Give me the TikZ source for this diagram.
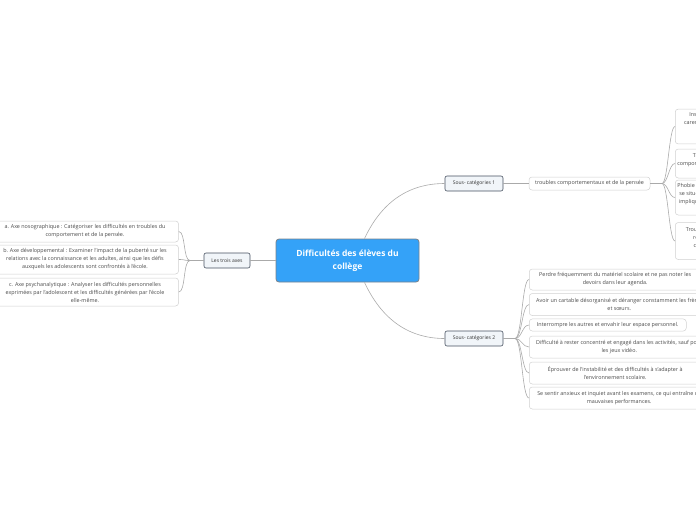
\documentclass[tikz,border=0pt]{standalone}
\usepackage{fontspec}
\setmainfont{Open Sans}
\usetikzlibrary{positioning}
\definecolor{myblue}{RGB}{52,162,248}
\definecolor{myframe}{RGB}{120,130,140}
\definecolor{mydark}{RGB}{70,80,95}
\definecolor{mypale}{RGB}{241,245,249}
\definecolor{myline}{RGB}{170,170,170}
\definecolor{mytext}{RGB}{75,75,75}

\tikzset{
  central/.style={draw=myframe, fill=myblue, rounded corners=3, text=white,
    font=\bfseries\fontsize{8.5}{13}\selectfont, align=center,
    minimum width=143, minimum height=43, line width=0.8},
  branch/.style={draw=mydark, fill=mypale, rounded corners=2, text=black!80,
    font=\fontsize{5}{8}\selectfont, minimum height=15, line width=0.6},
  leaf/.style={draw=black!18, fill=white, rounded corners=3, text=mytext,
    font=\fontsize{5.4}{8}\selectfont, align=center, inner xsep=2,
    line width=0.5},
  link/.style={draw=myline, line width=0.6},
}

\begin{document}
\begin{tikzpicture}[x=1pt,y=-1pt]
\useasboundingbox (0,0) rectangle (696,520);
\clip (0,0) rectangle (696,520);

% centre
\node[central] (root) at (347.5,260.5) {Difficultés des élèves du\\collège};

% left branch
\node[branch, minimum width=46] (axes) at (227,260.5) {Les trois axes};
\node[leaf, minimum width=187, minimum height=21] (axeA) at (85,231.5)
  {a. Axe nosographique : Catégoriser les difficultés en troubles du\\comportement et de la pensée.};
\node[leaf, minimum width=187, minimum height=29] (axeB) at (85,259.5)
  {b. Axe développemental : Examiner l'impact de la puberté sur les\\relations avec la connaissance et les adultes, ainsi que les défis\\auxquels les adolescents sont confrontés à l'école.};
\node[leaf, minimum width=187, minimum height=28] (axeC) at (85,292)
  {c. Axe psychanalytique : Analyser les difficultés personnelles\\exprimées par l'adolescent et les difficultés générées par l'école\\elle-même.};

\coordinate (forkL) at (190,260.5);
\draw[link] (root.west) -- (axes.west -| axes.east);
\draw[link] (axes.west) -- (forkL);
\foreach \n in {axeA,axeB,axeC}
  \draw[link] (forkL) .. controls +(-7,0) and +(7,0) .. (\n.east);

% upper branch
\node[branch, minimum width=58] (sub1) at (474,183.5) {Sous- catégories 1};
\node[leaf, minimum width=121, minimum height=13] (troubles) at (589.5,183.5)
  {troubles comportementaux et de la pensée};
\draw[link] ([xshift=17]root.north) to[out=65,in=180] (sub1.west);
\draw[link] (sub1.east) -- (troubles.west);

\node[leaf, anchor=west, minimum width=94, minimum height=34] (t1) at (675,126.5)
  {Instabilité psychomotrice :\\carences affectives et manque\\d'attention en\\classe.};
\node[leaf, anchor=west, minimum height=29] (t2) at (675,163.5)
  {Troubles de l'humeur et\\comportements d'opposition envers\\les adultes.};
\node[leaf, anchor=west, minimum height=35] (t3) at (675,197.5)
  {Phobie scolaire : une angoisse qui\\se situe entre la peur et l'anxiété\\implique un refus d'aller à l'école\\et en classe.};
\node[leaf, anchor=west, minimum width=94, minimum height=37] (t4) at (675,241)
  {Troubles de la pensée : idées\\répétitives, obsessions,\\confusions et blocages\\intellectuels.};

\coordinate (forkT) at (662,183.5);
\draw[link] (troubles.east) -- (forkT);
\foreach \n in {t1,t2,t3,t4}
  \draw[link] (forkT) .. controls +(6,0) and +(-6,0) .. (\n.west);

% lower branch
\node[branch, minimum width=58] (sub2) at (474,338.5) {Sous- catégories 2};
\draw[link] ([xshift=17]root.south) to[out=-65,in=180] (sub2.west);

\node[leaf, anchor=west, minimum width=172, minimum height=21] (s1) at (529,279.5)
  {Perdre fréquemment du matériel scolaire et ne pas noter les\\devoirs dans leur agenda.};
\node[leaf, anchor=west, minimum width=180, minimum height=22] (s2) at (529,304.5)
  {Avoir un cartable désorganisé et déranger constamment les frères\\et sœurs.};
\node[leaf, anchor=west, minimum width=157, minimum height=12] (s3) at (529,325)
  {Interrompre les autres et envahir leur espace personnel.};
\node[leaf, anchor=west, minimum width=180, minimum height=22] (s4) at (529,347)
  {Difficulté à rester concentré et engagé dans les activités, sauf pour\\les jeux vidéo.};
\node[leaf, anchor=west, minimum width=172, minimum height=22] (s5) at (529,373)
  {Éprouver de l'instabilité et des difficultés à s'adapter à\\l'environnement scolaire.};
\node[leaf, anchor=west, minimum width=180, minimum height=22] (s6) at (529,398)
  {Se sentir anxieux et inquiet avant les examens, ce qui entraîne de\\mauvaises performances.};

\coordinate (forkB) at (515,338.5);
\draw[link] (sub2.east) -- (forkB);
\foreach \n in {s1,s2,s3,s4,s5,s6}
  \draw[link] (forkB) .. controls +(7,0) and +(-7,0) .. (\n.west);
\end{tikzpicture}
\end{document}
